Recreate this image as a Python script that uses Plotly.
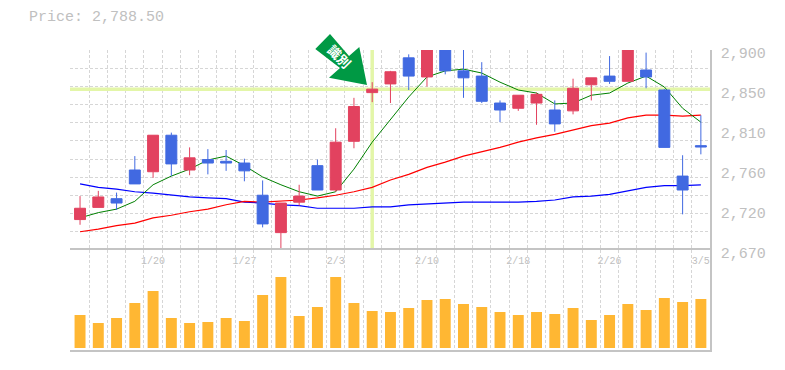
import plotly.graph_objects as go

dates = ["1/14","1/15","1/16","1/17","1/20","1/21","1/22","1/23","1/24","1/27","1/28","1/29","1/30","1/31",
         "2/3","2/4","2/5","2/6","2/7","2/10","2/12","2/13","2/14","2/17","2/18","2/19","2/20","2/21","2/25",
         "2/26","2/27","2/28","3/3","3/4","3/5"]
opens  = [2705,2719,2729,2762,2760,2802,2762,2774,2772,2770,2733,2690,2725,2767,2739,2795,2851,2861,2891,2869,2906,2876,2870,2839,2833,2839,2831,2830,2860,2870,2864,2877,2854,2755,2790]
highs  = [2732,2738,2736,2778,2802,2805,2788,2786,2785,2775,2750,2724,2745,2774,2810,2845,2863,2876,2895,2910,2910,2906,2886,2842,2848,2851,2842,2867,2868,2893,2906,2897,2855,2779,2825]
lows   = [2699,2719,2716,2746,2753,2755,2756,2757,2761,2749,2696,2670,2721,2739,2737,2787,2840,2839,2854,2858,2872,2845,2839,2817,2830,2814,2806,2826,2842,2861,2864,2856,2788,2711,2780]
closes = [2718,2731,2724,2746,2802,2769,2776,2770,2770,2761,2700,2724,2732,2739,2794,2835,2855,2875,2870,2906,2876,2868,2841,2831,2848,2849,2815,2856,2868,2864,2906,2869,2788,2739,2788.5]
ma_short = [2707,2713,2717,2726,2745,2755,2763,2773.5,2778,2767,2754,2745,2737,2732,2737,2763,2794,2819.5,2846,2869,2876,2878,2873.5,2863,2854,2850.5,2838,2839,2848,2850.5,2862,2870,2857.5,2833,2817]
ma_mid = [2691,2694,2698,2701,2707,2710,2714,2717,2722,2726,2725,2726,2727.5,2730,2733,2737,2742,2750.5,2757,2765,2771,2778,2783,2788,2794,2799,2803,2808,2813,2816,2822,2825,2825,2824,2825]
ma_long = [2746,2742,2740,2737,2735.5,2733,2731,2730,2729,2725,2724,2722,2721,2718,2718,2718,2719.5,2719.5,2722,2723,2724,2725,2725,2725,2725,2726,2727.5,2731,2732,2734,2738,2742,2744,2744,2745]
volumes = [33,25,30,45,57,30,25,26,30,27,53,71,32,41,71,45,37,36,40,48,49,44,41,36,33,36,34,40,28,33,44,38,50,46,49]

price_ticks = [2900,2854,2808,2762,2716,2670]
price_labels = ["2,900","2,850","2,810","2,760","2,720","2,670"]
label_every = [4,9,14,19,24,29,34]
price_title = "Price: 2,788.50"
marker_text = "識別"
cross_index = 16
cross_price = 2855

idx = list(range(len(dates)))
P_MIN, P_MAX = 2670, 2900
GREY = "#c4c4c4"
GRID = "#d6d6d6"
FONT = "Liberation Mono"
X_RANGE = [-0.55, 34.5]

fig = go.Figure()
fig.add_trace(go.Scatter(x=[idx[0]-0.55, idx[-1]+0.5], y=[cross_price]*2, mode="lines",
                         line=dict(color="#e3f6a8", width=3.5), xaxis="x", yaxis="y", hoverinfo="skip"))
fig.add_trace(go.Scatter(x=[cross_index]*2, y=[P_MIN+2, P_MAX], mode="lines",
                         line=dict(color="#e3f6a8", width=3.5), xaxis="x", yaxis="y", hoverinfo="skip"))
fig.add_trace(go.Scatter(x=idx, y=ma_long, mode="lines", line=dict(color="#0000ff", width=1.2), xaxis="x", yaxis="y"))
fig.add_trace(go.Scatter(x=idx, y=ma_mid, mode="lines", line=dict(color="#ff0000", width=1.2), xaxis="x", yaxis="y"))
fig.add_trace(go.Scatter(x=idx, y=ma_short, mode="lines", line=dict(color="#008000", width=1), xaxis="x", yaxis="y"))
fig.add_trace(go.Bar(x=idx, y=volumes, width=0.6, marker=dict(color="#ffb733", line=dict(width=0)), xaxis="x2", yaxis="y2"))
fig.add_trace(go.Candlestick(x=idx, open=opens, high=highs, low=lows, close=closes, xaxis="x", yaxis="y3",
                             increasing=dict(line=dict(color="#e2425f", width=1), fillcolor="#e2425f"),
                             decreasing=dict(line=dict(color="#4169e1", width=1), fillcolor="#4169e1"),
                             whiskerwidth=0))

pts = [(330,34),(315.3,49),(340,68),(329,77.7),(367,85),(359.3,47),(349,56)]
W, H = 640, 300
def pp(p): return f"{(p[0]-70)/W:.5f},{(350-p[1])/H:.5f}"
path = "M " + " L ".join(pp(p) for p in pts) + " Z"

h_minor = [P_MAX - i*(P_MAX-P_MIN)/11 for i in range(12)]
v_minor = [i - 0.5 for i in range(len(idx))]
minor_x = dict(tickmode="array", tickvals=v_minor, showgrid=True, gridcolor=GRID, griddash="3px,2px", gridwidth=1, ticks="")

fig.update_layout(
    width=777, height=362, autosize=False,
    margin=dict(l=62, r=75, t=42, b=20, autoexpand=False),
    paper_bgcolor="white", plot_bgcolor="white",
    showlegend=False, boxgap=0.4, boxgroupgap=0, bargap=0.4,
    font=dict(family=FONT, color="#c0c0c0"),
    xaxis=dict(domain=[0,1], range=X_RANGE, anchor="y", side="bottom", tickmode="array", tickvals=label_every,
               ticktext=[dates[i] for i in label_every], tickfont=dict(family=FONT, size=10, color="#c0c0c0"),
               ticklabelstandoff=3, ticks="", showgrid=False, zeroline=False,
               minor=minor_x, rangeslider=dict(visible=False)),
    xaxis2=dict(domain=[0,1], range=X_RANGE, matches="x", anchor="y2", side="top", showticklabels=False,
               ticks="", showgrid=False, zeroline=False,
               showline=True, linecolor=GREY, linewidth=1.5, mirror=True, minor=minor_x),
    yaxis=dict(domain=[1/3,1], range=[P_MIN,P_MAX], side="right", anchor="x", tickmode="array",
               tickvals=price_ticks, ticktext=price_labels, tickfont=dict(family=FONT, size=15, color="#c0c0c0"),
               ticks="", showgrid=False, zeroline=False, showline=True, linecolor=GREY, linewidth=1.5,
               ticklabelshift=3, ticklabelstandoff=6,
               minor=dict(tickmode="array", tickvals=h_minor, showgrid=True, gridcolor=GRID, griddash="3px,2px", gridwidth=1, ticks="")),
    yaxis2=dict(domain=[0,1/3], range=[-2,98], side="right", anchor="x2", showticklabels=False, ticks="",
                showgrid=False, zeroline=False, showline=True, linecolor=GREY, linewidth=1.5),
    yaxis3=dict(domain=[1/3,1], range=[P_MIN,P_MAX], overlaying="y", side="right", anchor="x", showticklabels=False,
                ticks="", showgrid=False, zeroline=False, showline=False),
    shapes=[dict(type="path", xref="paper", yref="paper", path=path, fillcolor="#009944", line=dict(width=0), layer="above")],
    annotations=[
        dict(xref="paper", yref="paper", x=(27-70)/W, y=(350-18)/H, xanchor="left", yanchor="middle", showarrow=False,
             text=price_title, font=dict(family=FONT, size=15, color="#c0c0c0")),
        dict(xref="paper", yref="paper", x=(340-70)/W, y=(350-56)/H, xanchor="center", yanchor="middle", showarrow=False,
             text="<b>"+marker_text+"</b>", textangle=45, font=dict(family="Noto Sans CJK JP", size=13, color="white")),
    ],
)
fig.write_html("out.html")
